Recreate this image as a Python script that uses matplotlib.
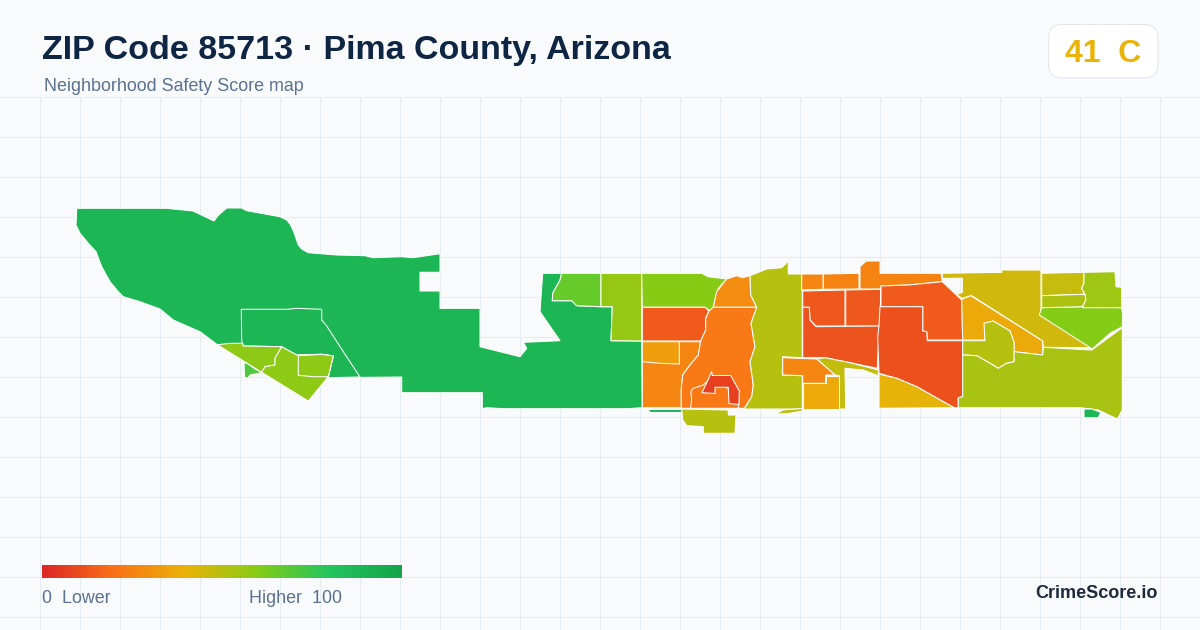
import numpy as np
import matplotlib
matplotlib.use('Agg')
import matplotlib.pyplot as plt
from matplotlib.colors import LinearSegmentedColormap
from matplotlib.patches import Polygon, FancyBboxPatch

plt.rcParams['font.family'] = ['Liberation Sans', 'DejaVu Sans']

title = 'ZIP Code 85713 · Pima County, Arizona'
subtitle = 'Neighborhood Safety Score map'
badge_text = '41  C'
brand = 'CrimeScore.io'

# score colour ramp
ramp_stops = [0, 0.2, 0.4, 0.6, 0.8, 1]
ramp_colors = ['#dc2626', '#f97316', '#eab308', '#84cc16', '#22c55e', '#16a34a']

# tract outlines, map units (projected to the 1200x630 canvas)
west_main = [(76.7, 208.3), (166.7, 208.3), (193, 211), (214, 221), (218, 215.7), (226.7, 208), (241.7, 208),
             (246.7, 210.7), (280, 216.7), (286.7, 220), (290.7, 225), (294.3, 233.3), (298.3, 245), (301.7, 249),
             (308.3, 252.7), (336.7, 255), (365, 255.7), (373, 257.7), (401.7, 256.7), (413, 257.7), (440, 253.7),
             (440, 272.3), (420, 272.3), (420, 291), (440, 291), (440, 308.3), (480, 308.3), (480, 346.7),
             (520, 356.7), (526.7, 348.3), (523.3, 342.3), (560, 340.7), (540, 311.7), (542.7, 273.3), (561.7, 273.3),
             (560, 280), (552.7, 293.3), (552.3, 300.7), (571.7, 300.7), (576.7, 305.7), (601, 306.7), (612.3, 306.7),
             (611, 340.7), (641.7, 341), (642.3, 407.7), (626.7, 408.7), (503.3, 408.7), (486.7, 407.7), (482.3, 408.7),
             (482.3, 392.7), (401.7, 392.7), (401.7, 377), (328, 377.7), (333, 356), (217.3, 344.7), (200, 331.7),
             (173.3, 320), (160, 309), (140, 301.7), (123.3, 296.7), (118.3, 291.7), (110, 281.7), (101.7, 266.7),
             (96, 251.7), (88.3, 243.3), (80, 233.3), (76, 225)]
west_inner = [(241.3, 309.3), (286.7, 309.3), (296.7, 308.3), (321.7, 309.3), (321.7, 320), (326.7, 326),
              (343.3, 351.7), (360, 377), (328, 377.7), (333.3, 356), (321.7, 354.3), (296.7, 355), (281.7, 346.7),
              (243.3, 346), (241.7, 340.7)]
west_a = [(217.3, 344.7), (230, 343.3), (242.7, 343.3), (243.3, 346), (281.7, 346.7), (275, 358.3), (275, 365),
          (265, 366.7), (261.7, 372.3)]
west_b = [(281.7, 346.7), (296.7, 355), (321.7, 354.3), (333.3, 356), (328.3, 376.7), (308.3, 401), (261.7, 372.3),
          (265, 366.7), (275, 365), (275, 358.3)]
west_c = [(298.3, 355.7), (321.7, 354.3), (333.3, 356), (328.3, 376.7), (313.3, 376.7), (298.3, 375.3)]
west_bit = [(244, 362.5), (248.3, 364), (255, 369), (262, 372.5), (250, 375), (248, 378), (244.5, 377.5)]

mid_lime = [(561.7, 273.3), (601, 273.3), (601, 306.7), (576.7, 305.7), (571.7, 300.7), (552.3, 300.7),
            (552.7, 293.3), (560, 280)]
mid_green = [(601, 273.3), (641.7, 273.3), (641.7, 341), (611, 340.7), (612.3, 306.7), (601, 306.7)]
mid_north = [(641.7, 273.3), (701.7, 273.3), (708.3, 276.7), (726.7, 279), (718.3, 288.3), (715, 300), (713.3, 307.3),
              (710, 311), (705, 307.3), (642.3, 307.3)]
mid_red = [(642.3, 307.3), (705, 307.3), (709, 311), (705.7, 318.3), (705.7, 330), (700.7, 341), (642.3, 341)]
mid_orange = [(642.3, 341.7), (700.7, 341.7), (698.3, 355), (690, 365), (682.7, 375), (681.3, 388.3), (681.3, 407.7),
              (642.3, 407.7)]
mid_box = [(642.3, 341.7), (679.3, 341.7), (679.3, 364), (660, 363.3), (642.3, 361.7)]
mid_amber = [(726.7, 279), (736.7, 275.7), (742.7, 277.7), (750, 275.7), (750.7, 295), (756.7, 307.3), (713.3, 307.3),
             (716.7, 291.7)]
core = [(713.3, 307.3), (756.7, 307.3), (751, 323.3), (755, 346.7), (750, 361.7), (753.3, 385), (751.7, 396.7),
        (744.3, 408.3), (681.3, 408.3), (681.3, 388.3), (682.7, 375), (690, 365), (698.3, 355), (700.7, 341),
        (705.7, 330), (705.7, 318.3), (709, 311)]
core_south = [(690.7, 408.3), (691.7, 397.3), (690.7, 391.7), (693.3, 388.3), (703.3, 385), (708.3, 380),
              (739.3, 393.3), (738.3, 408.3)]
core_red = [(712.3, 375.5), (730.7, 375.5), (739.3, 391), (739, 404.5), (729, 403.5), (728.3, 387.3), (715, 387.3),
            (715, 393.5), (702, 392.7), (708, 380), (711.7, 371.5)]
south_olive = [(681.7, 409), (728.3, 410), (728.3, 415), (736, 415), (735, 433.3), (703.3, 433.3), (703.3, 426.7),
               (686.7, 425.7), (682.7, 420)]
band = [(750, 275.7), (766.7, 269), (781.7, 267.7), (788.3, 261), (788.3, 274), (802.3, 274), (802.3, 357.7),
        (782.7, 356.7), (782.3, 375), (802.3, 375.7), (802.3, 409), (744.3, 409), (751.7, 396.7), (753.3, 385),
        (750, 361.7), (755, 346.7), (751, 323.3), (756.7, 307.3), (750.7, 295)]
band_sliver = [(775, 414), (783.3, 410), (802.3, 408.5), (802.5, 411), (788, 413.5)]
green_sliver = [(646.7, 408.5), (681.3, 408.5), (681.3, 411.5), (650, 411.5)]

east_o1 = [(801.7, 274), (823.3, 274), (823.3, 289.3), (801.7, 290)]
east_o2 = [(823.3, 274), (859, 273.3), (859, 289), (823.3, 289.3)]
east_o3 = [(860, 266.7), (866, 261), (880, 261), (880, 273.3), (941, 273.3), (942.3, 281.7), (908.3, 285), (881, 286),
           (881, 289), (860, 289)]
east_a = [(802.7, 291), (845, 290), (845, 326), (816, 326), (810, 320), (809.3, 307.3), (802.7, 307.3)]
east_b = [(845.7, 290), (880.7, 289.3), (880, 326), (845.7, 326)]
east_c = [(802.7, 307.3), (809.3, 307.3), (810, 320), (816, 326.7), (879.3, 326), (877.3, 368.3), (850, 362.7),
          (825, 357.7), (802.7, 357.7)]
east_d = [(881, 286), (908.3, 285), (942.3, 281.7), (961.7, 300), (962.7, 340), (927.3, 340), (926.7, 331.7),
          (922.7, 331), (922.7, 306.7), (881, 306.7)]
east_e = [(880, 306.7), (922.7, 306.7), (922.7, 331), (926.7, 331.7), (927.3, 340.7), (962.7, 340.7), (962.7, 396.7),
          (958.3, 397.7), (958.3, 407.7), (954, 407.7), (916.7, 386.7), (896.7, 378.3), (879, 373.3), (877.7, 336.7),
          (879, 326)]
east_f = [(879, 374), (896.7, 378.3), (916.7, 386.7), (954, 407.7), (879, 408.3)]
east_strip = [(816.7, 359), (825, 357.7), (850, 362.7), (878.3, 370), (878.3, 375.7), (863.3, 370), (845, 368.3),
              (845.7, 409), (839.3, 409), (839.3, 375.7), (835, 375)]
east_obox = [(782.7, 357.7), (816.7, 359), (835, 375), (825.7, 375), (825.7, 383.3), (802.7, 383.3), (802.7, 375.7),
             (782.7, 375)]
east_ybox = [(802.7, 383.3), (825.7, 383.3), (825.7, 375.7), (839.3, 375.7), (839.3, 409), (802.7, 409)]

ne_main = [(942.3, 273.3), (1001.7, 272.3), (1001.7, 270), (1041, 270), (1041, 315), (1092.7, 347.7), (1043.3, 347.3),
           (1042.7, 341), (971.7, 295.7), (961.7, 298.3), (956.7, 294.3), (962.3, 292.3), (962.3, 278.3),
           (942.3, 278.3)]
ne_amber = [(961.7, 299.3), (970.7, 295.7), (1042.7, 341), (1042.7, 355), (1014, 351.7), (1014, 342.3), (1010, 331),
            (993.3, 321), (985, 323.3), (985, 340), (962.7, 340)]
ne_island = [(962.7, 340.7), (985, 340.7), (984, 323.3), (993.3, 321), (1010, 331), (1014, 342.3), (1014.3, 361.7),
             (1006.7, 363.3), (998.3, 368.3), (990, 363.3), (976.7, 355.7), (962.7, 355)]
se_main = [(962.7, 355), (976.7, 355.7), (990, 363.3), (998.3, 368.3), (1006.7, 363.3), (1014.3, 361.7), (1014, 351.7),
           (1042.7, 355), (1043.3, 347.3), (1091.7, 350), (1122.3, 327.7), (1122.3, 410), (1117.3, 419), (1098.3, 410),
           (1080, 407.7), (958.3, 407.7), (958.3, 397.7), (962.7, 396.7)]
ne_lime = [(1039.3, 315), (1041.7, 307.7), (1082.3, 306.7), (1121.7, 307.7), (1122.7, 315), (1122.3, 326.7),
           (1110, 333.3), (1092.3, 349)]
ne_t1 = [(1041.7, 273.3), (1084, 272.3), (1084, 283.3), (1081.7, 288.3), (1085, 294.3), (1041.7, 295.7)]
ne_t2 = [(1041.7, 295.7), (1085, 294.3), (1086, 300), (1082.3, 306.7), (1041.7, 307.7)]
ne_t3 = [(1084, 272.3), (1115, 271.7), (1116, 286.7), (1121.7, 287.3), (1121.7, 307.7), (1082.3, 307.7), (1086, 300),
         (1085, 294.3), (1081.7, 288.3), (1084, 283.3)]
se_bit = [(1084, 409), (1091.7, 409), (1100.7, 412.3), (1098.3, 417.7), (1084, 417.7)]

# safety score per tract, in drawing order
tracts = [(west_main, 89), (west_inner, 89), (west_bit, 71), (west_a, 58), (west_b, 58), (west_c, 58),
          (mid_lime, 66), (mid_green, 57), (mid_north, 59), (mid_red, 14), (mid_orange, 26), (mid_box, 33),
          (mid_amber, 28), (core, 22), (core_south, 22), (core_red, 7), (south_olive, 50), (band, 50),
          (band_sliver, 50), (green_sliver, 89), (east_o1, 26), (east_o2, 25), (east_o3, 25), (east_a, 13),
          (east_b, 13), (east_c, 12), (east_d, 14), (east_e, 11), (east_f, 41), (east_strip, 48), (east_obox, 26),
          (east_ybox, 37), (ne_main, 45), (ne_amber, 37), (ne_island, 50), (se_main, 53), (ne_lime, 60),
          (ne_t1, 47), (ne_t2, 52), (ne_t3, 55), (se_bit, 89)]

cmap = LinearSegmentedColormap.from_list('safety', list(zip(ramp_stops, ramp_colors)))

fig = plt.figure(figsize=(12, 6.3), dpi=100, facecolor='#f8fafc')
ax = fig.add_axes([0, 0, 1, 1])
ax.set_xlim(0, 1200)
ax.set_ylim(630, 0)
ax.axis('off')

# background grid
ax.vlines(np.arange(40, 1200, 40), 97, 630, color='#e5edf3', lw=0.75, zorder=1)
ax.hlines(np.arange(97, 630, 40), 0, 1200, color='#e5edf3', lw=0.75, zorder=1)

for points, score in tracts:
    ax.add_patch(Polygon(points, closed=True, facecolor=cmap(score / 100), edgecolor='white',
                         lw=0.75, joinstyle='round', zorder=2))

# header
ax.text(42, 59.3, title, fontsize=24.5, fontweight='bold', color='#0f2544', va='baseline', zorder=4)
ax.text(44, 90.7, subtitle, fontsize=12.9, color='#5b7290', va='baseline', zorder=4)
ax.add_patch(FancyBboxPatch((1048.5, 24.5), 109.5, 53.5, boxstyle='round,pad=0,rounding_size=14',
                            facecolor='white', edgecolor='#e2e8f0', lw=0.8, zorder=3))
ax.text(1103, 61.7, badge_text, fontsize=23, fontweight='bold', color='#eab308', ha='center', va='baseline', zorder=4)

# legend
ramp = np.linspace(0, 1, 360).reshape(1, -1)
ax.imshow(ramp, cmap=cmap, extent=(42, 402, 578, 565), aspect='auto', vmin=0, vmax=1, zorder=3)
ax.set_xlim(0, 1200)
ax.set_ylim(630, 0)
ax.text(42, 602.7, '0  Lower', fontsize=12.9, color='#5b7290', va='baseline', zorder=4)
ax.text(342, 602.7, 'Higher  100', fontsize=12.9, color='#5b7290', ha='right', va='baseline', zorder=4)
ax.text(1158, 598.3, brand, fontsize=13, fontweight='bold', color='#1e293b', ha='right', va='baseline', zorder=4)

fig.savefig('out.png', dpi=100, facecolor=fig.get_facecolor())
